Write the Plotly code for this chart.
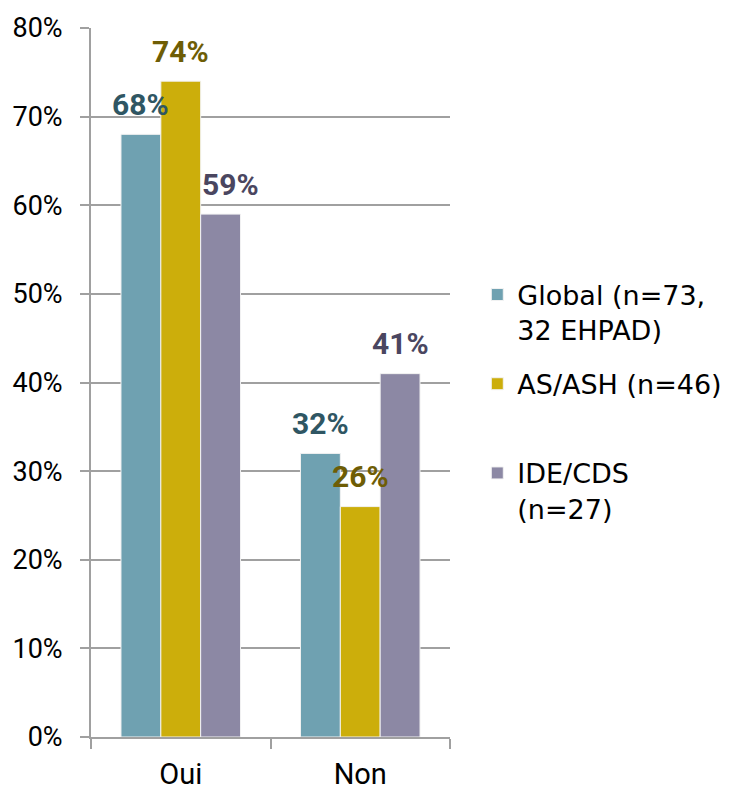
import plotly.graph_objects as go

categories = ["Oui", "Non"]
series_names = ["Global (n=73,<br>32 EHPAD)", "AS/ASH (n=46)<br> ", "IDE/CDS<br>(n=27)"]
global_vals = [0.68, 0.32]
asash_vals = [0.74, 0.26]
idecds_vals = [0.59, 0.41]
values = [global_vals, asash_vals, idecds_vals]
y_ticks = [0, 0.1, 0.2, 0.3, 0.4, 0.5, 0.6, 0.7, 0.8]

bar_colors = ["#6FA1B1", "#CCAE0B", "#8C88A4"]
label_colors = ["#2F5663", "#6E5D05", "#4A4660"]
label_xshift = [[0, 0], [0, 0], [10, 0]]

bargap = 0.334
n = len(values)
bw = (1 - bargap) / n

fig = go.Figure()
for i, (name, vals) in enumerate(zip(series_names, values)):
    fig.add_trace(go.Bar(
        x=categories, y=vals, name=name,
        marker=dict(color=bar_colors[i], line=dict(color="#F2F2F2", width=1)),
        legendgroup=str(i),
    ))
    for j, v in enumerate(vals):
        fig.add_annotation(
            x=j + (i - (n - 1) / 2) * bw, y=v, xref="x", yref="y",
            text=f"{round(v*100)}%", showarrow=False,
            yanchor="middle", yshift=30, xshift=label_xshift[i][j],
            font=dict(family="Roboto", size=30, color=label_colors[i], weight="bold"),
        )

# page body has an 8px margin, so the figure is 8px smaller than the window
fig.update_layout(
    width=721, height=783,
    margin=dict(l=83, r=279, t=20, b=54, autoexpand=False),
    plot_bgcolor="white", paper_bgcolor="white",
    barmode="group", bargap=bargap, bargroupgap=0,
    showlegend=True,
    legend=dict(
        x=1.076, xanchor="left", y=0.658, yanchor="top",
        font=dict(family="DejaVu Sans", size=27, color="#000000"),
        valign="top", tracegroupgap=16, bgcolor="rgba(0,0,0,0)",
    ),
    font=dict(family="Roboto", color="#000000"),
)
fig.update_xaxes(
    type="category", tickson="boundaries", ticks="outside", ticklen=10,
    tickcolor="#A0A0A0", tickwidth=2, ticklabelstandoff=10, automargin=False,
    showline=True, linecolor="#A0A0A0", linewidth=2,
    showgrid=False, tickfont=dict(family="Roboto", size=29, color="#000000"),
)
fig.update_yaxes(
    range=[0, 0.8], tickvals=y_ticks, tickformat=".0%",
    ticks="outside", ticklen=9, tickcolor="#A0A0A0", tickwidth=2,
    ticklabelstandoff=12, automargin=False,
    showline=True, linecolor="#A0A0A0", linewidth=2,
    showgrid=True, gridcolor="#A0A0A0", gridwidth=2,
    zeroline=False,
    tickfont=dict(family="Roboto", size=27, color="#000000"),
)

fig.write_html("out.html")
